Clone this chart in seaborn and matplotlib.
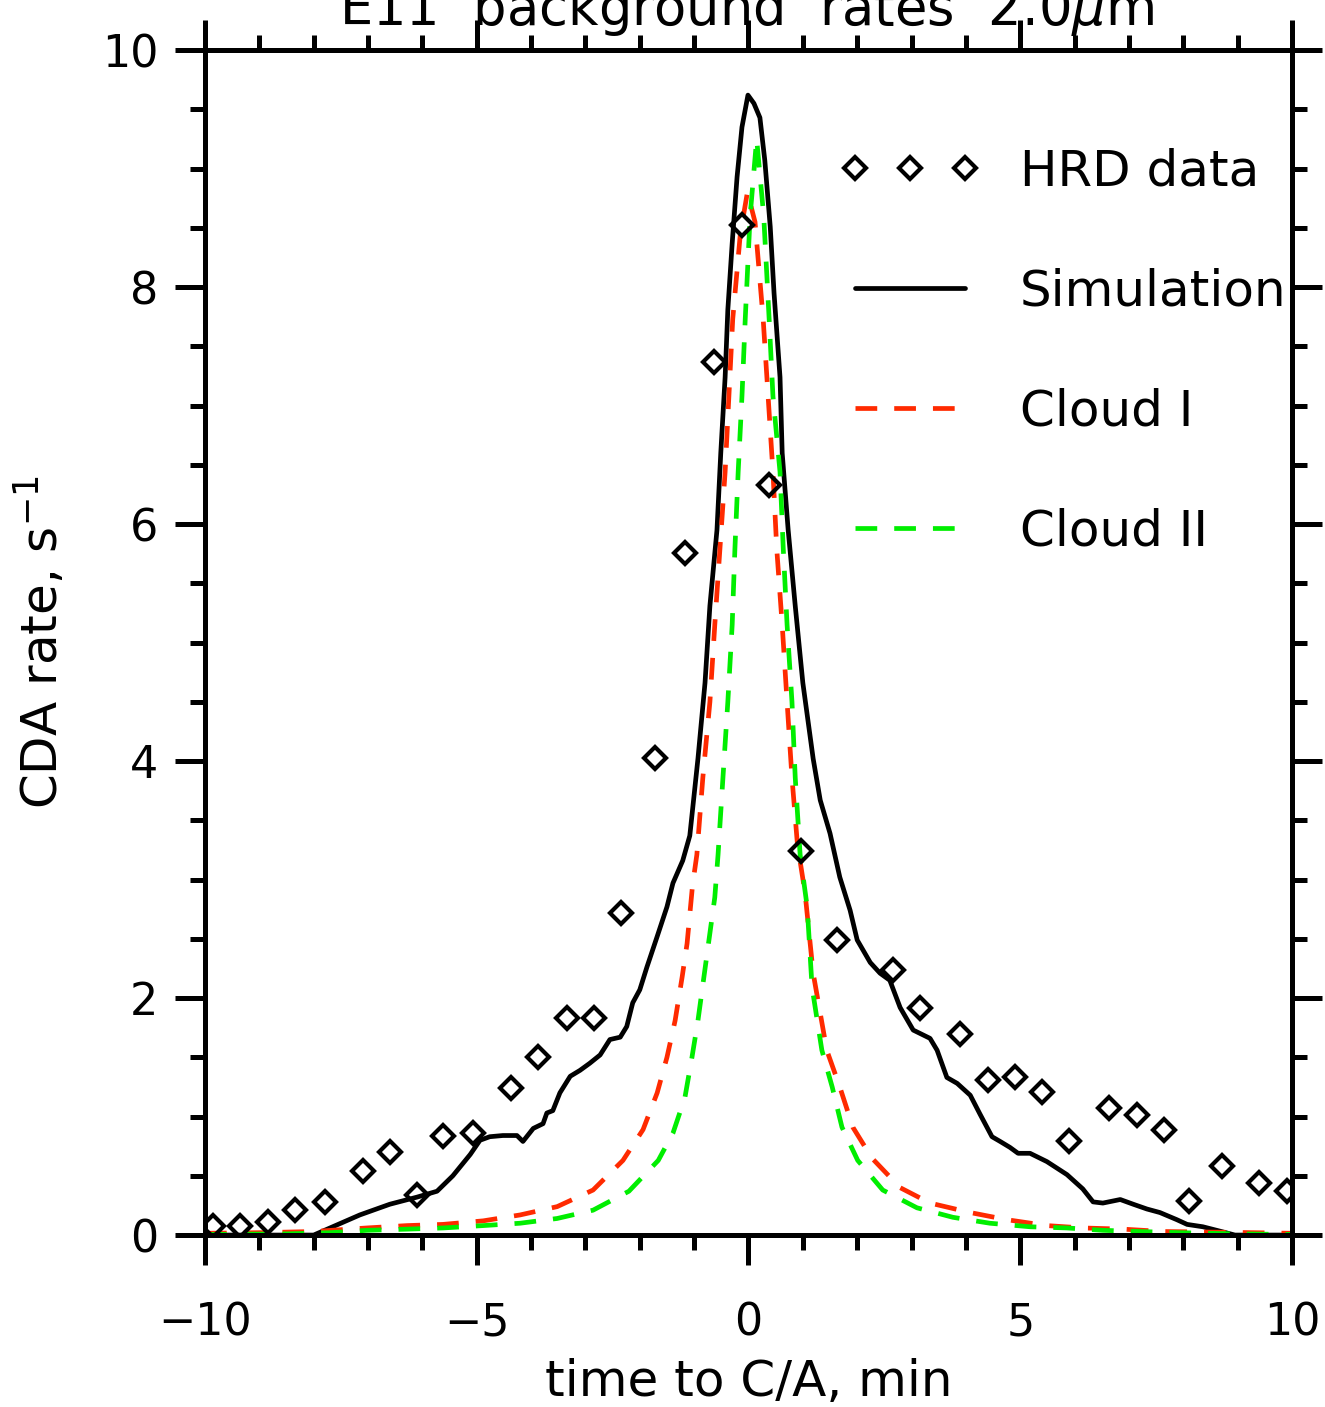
import numpy as np
import pandas as pd
import matplotlib
matplotlib.use('Agg')
import matplotlib.pyplot as plt
import seaborn as sns
from matplotlib.ticker import MultipleLocator

# HRD data points (time to C/A in min, rate in 1/s)
hrd_t = [-9.85, -9.36, -8.84, -8.34, -7.79, -7.09, -6.60, -6.10, -5.62, -5.07,
         -4.37, -3.87, -3.34, -2.85, -2.35, -1.72, -1.17, -0.63, -0.12, 0.38,
         0.97, 1.63, 2.66, 3.16, 3.89, 4.41, 4.90, 5.40, 5.90, 6.63,
         7.15, 7.64, 8.10, 8.71, 9.39, 9.90]
hrd_rate = [0.08, 0.08, 0.11, 0.21, 0.28, 0.54, 0.70, 0.34, 0.84, 0.86,
            1.24, 1.50, 1.83, 1.83, 2.72, 4.03, 5.76, 7.37, 8.52, 6.33,
            3.24, 2.49, 2.24, 1.92, 1.70, 1.31, 1.33, 1.21, 0.79, 1.07,
            1.01, 0.89, 0.29, 0.58, 0.44, 0.37]

# Simulation curve
sim_t = [-10.0, -8.0, -7.15, -6.60, -6.10, -5.73, -5.44, -5.12, -4.94, -4.76,
         -4.52, -4.26, -4.15, -3.96, -3.78, -3.71, -3.60, -3.47, -3.28, -3.10,
         -2.92, -2.73, -2.55, -2.36, -2.24, -2.13, -2.00, -1.87, -1.68, -1.50,
         -1.39, -1.21, -1.08, -0.93, -0.80, -0.71, -0.58, -0.51, -0.43, -0.38,
         -0.30, -0.21, -0.12, -0.01, 0.10, 0.21, 0.30, 0.40, 0.47, 0.58,
         0.62, 0.73, 0.86, 1.00, 1.19, 1.32, 1.50, 1.68, 1.87, 2.00,
         2.24, 2.42, 2.60, 2.79, 3.03, 3.34, 3.47, 3.65, 3.84, 4.08,
         4.26, 4.48, 4.63, 4.81, 4.96, 5.18, 5.49, 5.86, 6.15, 6.34,
         6.52, 6.84, 7.08, 7.33, 7.57, 7.88, 8.07, 8.36, 8.70, 8.95, 10.0]
sim_rate = [0.0, 0.0, 0.17, 0.26, 0.32, 0.37, 0.50, 0.68, 0.80, 0.83,
            0.84, 0.84, 0.79, 0.90, 0.94, 1.03, 1.05, 1.20, 1.34, 1.39,
            1.45, 1.52, 1.65, 1.67, 1.76, 1.96, 2.07, 2.26, 2.52, 2.77,
            2.97, 3.16, 3.37, 4.02, 4.66, 5.31, 5.95, 6.60, 7.24, 7.81,
            8.37, 8.93, 9.35, 9.62, 9.55, 9.43, 9.07, 8.51, 7.95, 7.24,
            6.60, 5.95, 5.31, 4.66, 4.02, 3.67, 3.39, 3.02, 2.74, 2.49,
            2.30, 2.21, 2.15, 1.92, 1.73, 1.66, 1.56, 1.33, 1.28, 1.18,
            1.02, 0.83, 0.79, 0.74, 0.69, 0.69, 0.62, 0.51, 0.39, 0.28,
            0.27, 0.30, 0.26, 0.22, 0.19, 0.13, 0.09, 0.07, 0.03, 0.0, 0.0]

# Cloud I
c1_t = [-10.0, -9.0, -8.0, -7.02, -6.28, -5.62, -4.88, -4.20, -3.52, -2.86,
        -2.31, -1.94, -1.68, -1.50, -1.35, -1.22, -1.13, -1.03, -0.95, -0.84,
        -0.71, -0.62, -0.43, -0.29, -0.15, -0.02, 0.12, 0.27, 0.45, 0.52,
        0.62, 0.71, 0.80, 0.90, 1.04, 1.19, 1.44, 1.68, 1.92, 2.27,
        2.79, 3.34, 4.08, 4.75, 5.49, 6.15, 6.89, 7.63, 8.5, 9.3, 10.0]
c1_rate = [0.015, 0.02, 0.03, 0.06, 0.08, 0.09, 0.12, 0.17, 0.24, 0.38,
           0.63, 0.89, 1.20, 1.50, 1.81, 2.18, 2.46, 2.95, 3.21, 3.86,
           4.50, 5.15, 6.44, 7.73, 8.45, 8.80, 8.55, 7.73, 6.44, 5.79,
           5.15, 4.50, 3.86, 3.30, 2.89, 2.21, 1.56, 1.25, 0.91, 0.65,
           0.40, 0.27, 0.19, 0.13, 0.08, 0.06, 0.05, 0.03, 0.025, 0.02, 0.015]

# Cloud II
c2_t = [-10.0, -8.5, -7.7, -7.02, -6.28, -5.62, -4.88, -4.20, -3.52, -2.86,
        -2.2, -1.66, -1.39, -1.17, -1.04, -0.93, -0.62, -0.56, -0.47, -0.38,
        -0.30, -0.25, -0.19, -0.12, -0.06, 0.03, 0.15, 0.28, 0.38, 0.45,
        0.58, 0.64, 0.71, 0.80, 0.86, 0.95, 1.08, 1.17, 1.35, 1.54,
        1.72, 2.01, 2.47, 3.10, 3.76, 4.44, 5.18, 5.86, 6.52, 7.20,
        7.94, 9.0, 10.0]
c2_rate = [0.005, 0.01, 0.02, 0.04, 0.05, 0.06, 0.08, 0.10, 0.14, 0.21,
           0.37, 0.63, 0.86, 1.16, 1.50, 1.81, 2.85, 3.21, 3.86, 4.50,
           5.15, 5.79, 6.44, 7.08, 7.73, 8.60, 9.25, 8.60, 7.73, 7.08,
           6.44, 5.79, 5.15, 4.50, 3.86, 3.21, 2.77, 2.09, 1.56, 1.25,
           0.91, 0.63, 0.38, 0.23, 0.15, 0.10, 0.07, 0.06, 0.04, 0.03,
           0.02, 0.01, 0.005]

sns.set_style('ticks')
plt.rcParams['font.family'] = ['DejaVu Sans']
plt.rcParams['mathtext.default'] = 'regular'
for k in ['text.color', 'axes.labelcolor', 'xtick.color', 'ytick.color',
          'axes.edgecolor']:
    plt.rcParams[k] = 'black'
fs = 32    # tick labels
fs2 = 36   # axis labels, legend

fig = plt.figure(figsize=(13.25, 14.07), dpi=100)
ax = fig.add_axes([0.1547, 0.1222, 0.8204, 0.8422])

lw = 3.4
sns.lineplot(x=sim_t, y=sim_rate, ax=ax, color='black', lw=lw, sort=False,
             estimator=None, label='Simulation')
sns.lineplot(x=c1_t, y=c1_rate, ax=ax, color='#ff2a00', lw=lw, sort=False,
             estimator=None, dashes=False, label='Cloud I')
sns.lineplot(x=c2_t, y=c2_rate, ax=ax, color='#00ee00', lw=lw, sort=False,
             estimator=None, dashes=False, label='Cloud II')
for ln in ax.lines[1:3]:
    ln.set_dashes((4.6, 3.6))
sns.lineplot(x=hrd_t, y=hrd_rate, ax=ax, marker='D', linestyle='none',
             mfc='none', mec='black', ms=11.5, mew=3.0, sort=False,
             estimator=None, label='HRD data')

ax.set_xlim(-10, 10)
ax.set_ylim(0, 10)
ax.xaxis.set_major_locator(MultipleLocator(5))
ax.xaxis.set_minor_locator(MultipleLocator(1))
ax.yaxis.set_major_locator(MultipleLocator(2))
ax.yaxis.set_minor_locator(MultipleLocator(0.5))
for s in ax.spines.values():
    s.set_linewidth(3.6)
    s.set_visible(True)
ax.tick_params(which='both', direction='out', top=True, right=True,
               labeltop=False, labelright=False, width=3.6, color='black')
ax.tick_params(which='major', length=21.5)
ax.tick_params(which='minor', length=11)
ax.tick_params(axis='x', which='major', labelsize=fs, pad=26)
ax.tick_params(axis='y', which='major', labelsize=fs, pad=12)

ax.set_xlabel('time to C/A, min', fontsize=fs2, labelpad=10)
ax.set_ylabel('CDA rate, s$^{-1}$', fontsize=fs2, labelpad=24)

hs = ax.get_legend_handles_labels()
order = ['HRD data', 'Simulation', 'Cloud I', 'Cloud II']
hmap = dict(zip(hs[1], hs[0]))
ax.legend([hmap[k] for k in order], order, loc='upper left',
          bbox_to_anchor=(0.584, 0.918), frameon=False, fontsize=fs2,
          numpoints=3, handlelength=2.8, handletextpad=0.8,
          labelspacing=1.44, borderpad=0, borderaxespad=0)

# title is partly cut by the top edge, as in the original figure
fig.text(0.5635, 1 - 25 / 1407, r'E11  background  rates  2.0$\mathit{\mu}$m',
         ha='center', va='baseline', fontsize=38)

fig.savefig('out.png', dpi=100)
